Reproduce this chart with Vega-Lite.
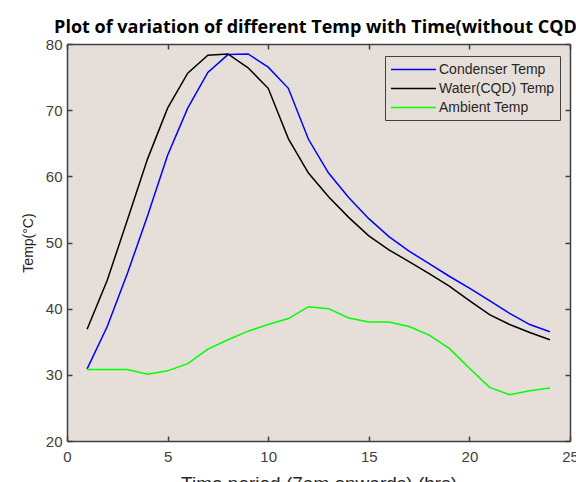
{
  "$schema": "https://vega.github.io/schema/vega-lite/v6.json",
  "autosize": "none",
  "width": 503,
  "height": 397,
  "padding": {"left": 67, "top": 44, "right": 6, "bottom": 41},
  "background": "#ffffff",
  "title": {
    "text": "Plot of variation of different Temp with Time(without CQD)",
    "font": "Open Sans",
    "fontSize": 18,
    "fontWeight": "bold",
    "color": "#000000",
    "anchor": "middle",
    "offset": 0
  },
  "config": {
    "view": {"fill": "#e6dfd9", "stroke": null},
    "axis": {
      "domainColor": "#404040",
      "domainWidth": 1.5,
      "tickColor": "#404040",
      "tickWidth": 1.5,
      "tickSize": -5,
      "grid": false,
      "labelFont": "Liberation Sans",
      "labelFontSize": 15,
      "labelColor": "#404040",
      "labelFlush": false,
      "labelOverlap": false,
      "titleFont": "Liberation Sans",
      "titleFontWeight": "normal",
      "titleColor": "#262626"
    }
  },
  "data": {
    "values": [
      {"t": 1, "s": "Condenser Temp", "v": 30.9}, {"t": 2, "s": "Condenser Temp", "v": 37.3}, {"t": 3, "s": "Condenser Temp", "v": 45.3}, {"t": 4, "s": "Condenser Temp", "v": 54.0}, {"t": 5, "s": "Condenser Temp", "v": 63.2}, {"t": 6, "s": "Condenser Temp", "v": 70.3}, {"t": 7, "s": "Condenser Temp", "v": 75.7}, {"t": 8, "s": "Condenser Temp", "v": 78.4}, {"t": 9, "s": "Condenser Temp", "v": 78.5}, {"t": 10, "s": "Condenser Temp", "v": 76.5}, {"t": 11, "s": "Condenser Temp", "v": 73.3}, {"t": 12, "s": "Condenser Temp", "v": 65.6}, {"t": 13, "s": "Condenser Temp", "v": 60.5}, {"t": 14, "s": "Condenser Temp", "v": 56.8}, {"t": 15, "s": "Condenser Temp", "v": 53.6}, {"t": 16, "s": "Condenser Temp", "v": 50.9}, {"t": 17, "s": "Condenser Temp", "v": 48.7}, {"t": 18, "s": "Condenser Temp", "v": 46.8}, {"t": 19, "s": "Condenser Temp", "v": 44.9}, {"t": 20, "s": "Condenser Temp", "v": 43.1}, {"t": 21, "s": "Condenser Temp", "v": 41.2}, {"t": 22, "s": "Condenser Temp", "v": 39.3}, {"t": 23, "s": "Condenser Temp", "v": 37.6}, {"t": 24, "s": "Condenser Temp", "v": 36.5},
      {"t": 1, "s": "Water(CQD) Temp", "v": 36.9}, {"t": 2, "s": "Water(CQD) Temp", "v": 44.3}, {"t": 3, "s": "Water(CQD) Temp", "v": 53.4}, {"t": 4, "s": "Water(CQD) Temp", "v": 62.6}, {"t": 5, "s": "Water(CQD) Temp", "v": 70.3}, {"t": 6, "s": "Water(CQD) Temp", "v": 75.6}, {"t": 7, "s": "Water(CQD) Temp", "v": 78.3}, {"t": 8, "s": "Water(CQD) Temp", "v": 78.5}, {"t": 9, "s": "Water(CQD) Temp", "v": 76.4}, {"t": 10, "s": "Water(CQD) Temp", "v": 73.3}, {"t": 11, "s": "Water(CQD) Temp", "v": 65.7}, {"t": 12, "s": "Water(CQD) Temp", "v": 60.5}, {"t": 13, "s": "Water(CQD) Temp", "v": 56.9}, {"t": 14, "s": "Water(CQD) Temp", "v": 53.8}, {"t": 15, "s": "Water(CQD) Temp", "v": 51.0}, {"t": 16, "s": "Water(CQD) Temp", "v": 48.9}, {"t": 17, "s": "Water(CQD) Temp", "v": 47.1}, {"t": 18, "s": "Water(CQD) Temp", "v": 45.3}, {"t": 19, "s": "Water(CQD) Temp", "v": 43.4}, {"t": 20, "s": "Water(CQD) Temp", "v": 41.2}, {"t": 21, "s": "Water(CQD) Temp", "v": 39.1}, {"t": 22, "s": "Water(CQD) Temp", "v": 37.6}, {"t": 23, "s": "Water(CQD) Temp", "v": 36.4}, {"t": 24, "s": "Water(CQD) Temp", "v": 35.3},
      {"t": 1, "s": "Ambient Temp", "v": 30.8}, {"t": 2, "s": "Ambient Temp", "v": 30.8}, {"t": 3, "s": "Ambient Temp", "v": 30.8}, {"t": 4, "s": "Ambient Temp", "v": 30.1}, {"t": 5, "s": "Ambient Temp", "v": 30.6}, {"t": 6, "s": "Ambient Temp", "v": 31.7}, {"t": 7, "s": "Ambient Temp", "v": 33.9}, {"t": 8, "s": "Ambient Temp", "v": 35.3}, {"t": 9, "s": "Ambient Temp", "v": 36.6}, {"t": 10, "s": "Ambient Temp", "v": 37.6}, {"t": 11, "s": "Ambient Temp", "v": 38.5}, {"t": 12, "s": "Ambient Temp", "v": 40.3}, {"t": 13, "s": "Ambient Temp", "v": 40.0}, {"t": 14, "s": "Ambient Temp", "v": 38.6}, {"t": 15, "s": "Ambient Temp", "v": 38.0}, {"t": 16, "s": "Ambient Temp", "v": 38.0}, {"t": 17, "s": "Ambient Temp", "v": 37.3}, {"t": 18, "s": "Ambient Temp", "v": 36.0}, {"t": 19, "s": "Ambient Temp", "v": 34.0}, {"t": 20, "s": "Ambient Temp", "v": 31.0}, {"t": 21, "s": "Ambient Temp", "v": 28.1}, {"t": 22, "s": "Ambient Temp", "v": 27.0}, {"t": 23, "s": "Ambient Temp", "v": 27.6}, {"t": 24, "s": "Ambient Temp", "v": 28.0}
    ]
  },
  "layer": [
    {
      "mark": {"type": "line", "strokeWidth": 1.5},
      "encoding": {
        "x": {
          "field": "t", "type": "quantitative",
          "scale": {"domain": [0, 25], "nice": false},
          "axis": {"orient": "bottom", "values": [0, 5, 10, 15, 20, 25], "labelPadding": 13, "title": "Time period (7am onwards) (hrs)", "titleFontSize": 19, "titlePadding": 10}
        },
        "y": {
          "field": "v", "type": "quantitative",
          "scale": {"domain": [20, 80], "nice": false, "zero": false},
          "axis": {"orient": "left", "values": [20, 30, 40, 50, 60, 70, 80], "labelPadding": 10, "title": "Temp(°C)", "titleFontSize": 14, "titlePadding": 10}
        },
        "color": {
          "field": "s", "type": "nominal",
          "scale": {"domain": ["Condenser Temp", "Water(CQD) Temp", "Ambient Temp"], "range": ["#0000ff", "#000000", "#00ff00"]},
          "legend": {
            "title": null,
            "orient": "none",
            "legendX": 318,
            "legendY": 12,
            "strokeColor": "#404040",
            "fillColor": "#e6dfd9",
            "padding": 5,
            "symbolType": "M-1,0H5",
            "symbolSize": 225,
            "symbolStrokeWidth": 1.5,
            "labelFont": "Liberation Sans",
            "labelFontSize": 14,
            "labelColor": "#262626",
            "labelOffset": 32,
            "rowPadding": 3
          }
        }
      }
    },
    {
      "mark": {"type": "point", "opacity": 0},
      "encoding": {
        "x": {"field": "t", "type": "quantitative", "axis": {"orient": "top", "values": [0, 5, 10, 15, 20, 25], "labels": false, "title": null}},
        "y": {"field": "v", "type": "quantitative", "axis": {"orient": "right", "values": [20, 30, 40, 50, 60, 70, 80], "labels": false, "title": null}}
      }
    }
  ],
  "resolve": {"axis": {"x": "independent", "y": "independent"}}
}
